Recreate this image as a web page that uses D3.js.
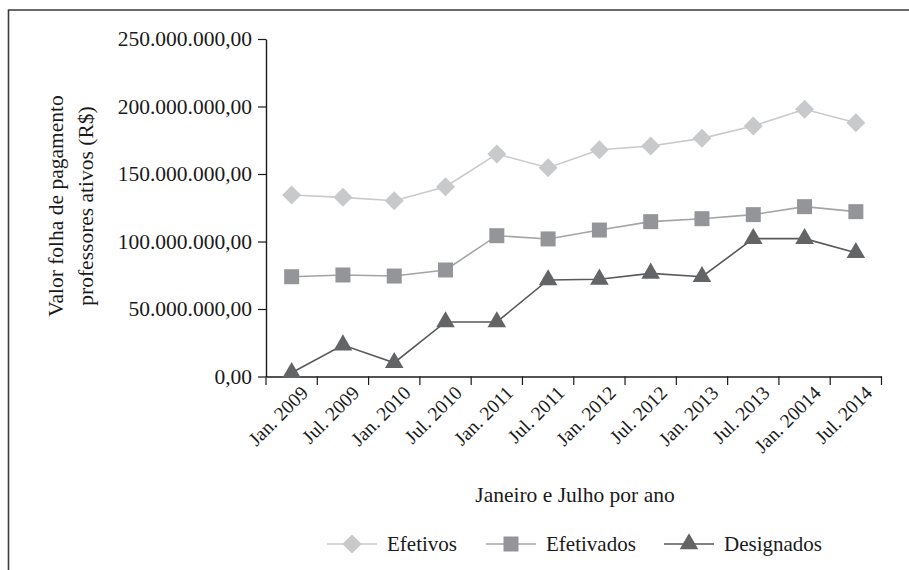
<!DOCTYPE html>
<html><head><meta charset="utf-8">
<script src="https://cdn.jsdelivr.net/npm/d3@7"></script>
<style>body{margin:0;background:#fff}svg{display:block}text{font-family:"Liberation Serif","DejaVu Serif",serif;fill:#1a1a1a}</style>
</head><body>
<svg id="c" width="909" height="570"></svg>
<script>
const categories = ["Jan. 2009","Jul. 2009","Jan. 2010","Jul. 2010","Jan. 2011","Jul. 2011","Jan. 2012","Jul. 2012","Jan. 2013","Jul. 2013","Jan. 20014","Jul. 2014"];
const efetivos   = [134.4,132.7,130.2,140.6,164.8,154.7,168.0,170.7,176.4,185.6,197.9,188.0].map(v=>v*1e6);
const efetivados = [73.9,75.2,74.4,78.9,104.3,101.9,108.5,114.7,116.9,119.9,125.8,122.1].map(v=>v*1e6);
const designados = [2.8,23.3,10.2,40.4,40.4,71.5,72.0,76.4,73.9,102.1,102.1,91.7].map(v=>v*1e6);
const yTicks = [0,50e6,100e6,150e6,200e6,250e6];
const seriesNames = ["Efetivos","Efetivados","Designados"];

const svg = d3.select("#c");
// frame
svg.append("path").attr("d","M8.5,570 V10 H909").attr("fill","none").attr("stroke","#3a3a3a").attr("stroke-width",1.6);

const x = d3.scaleBand().domain(categories).range([266,881.5]);
const y = d3.scaleLinear().domain([0,250e6]).range([376.5,39]);
const fmt = v => d3.format(",.2f")(v).replace(/,/g,"#").replace(/\./g,",").replace(/#/g,".");

const yAx = svg.append("g").attr("transform","translate(266,0)")
  .call(d3.axisLeft(y).tickValues(yTicks).tickFormat(fmt).tickSize(8).tickSizeOuter(0));
yAx.select(".domain").attr("stroke","#1a1a1a").attr("stroke-width",1.4);
yAx.selectAll(".tick line").attr("stroke","#1a1a1a").attr("stroke-width",1.2);
yAx.selectAll(".tick text").attr("font-size",21.5).attr("font-family","Liberation Serif").attr("fill","#1a1a1a").attr("x",-14);

const xAx = svg.append("g").attr("transform","translate(0,376.5)")
  .call(d3.axisBottom(x).tickSize(0).tickSizeOuter(0));
xAx.select(".domain").attr("stroke","#1a1a1a").attr("stroke-width",1.4);
xAx.selectAll(".tick text").attr("font-size",19.5).attr("font-family","Liberation Serif").attr("fill","#1a1a1a")
  .attr("text-anchor","end").attr("transform","translate(8,8) rotate(-45)").attr("dy","0.7em").attr("y",0);
// boundary ticks
const bounds = d3.range(categories.length+1).map(i=> i<categories.length ? x(categories[i]) : x.range()[1]);
svg.append("g").selectAll("line").data(bounds).join("line")
  .attr("x1",d=>d).attr("x2",d=>d).attr("y1",376.5).attr("y2",385)
  .attr("stroke","#1a1a1a").attr("stroke-width",1.2);

// axis titles
svg.append("text").attr("transform","translate(63,206) rotate(-90)").attr("text-anchor","middle")
  .attr("font-size",21.5).text("Valor folha de pagamento");
svg.append("text").attr("transform","translate(93,206) rotate(-90)").attr("text-anchor","middle")
  .attr("font-size",21.5).text("professores ativos (R$)");
svg.append("text").attr("x",575).attr("y",502).attr("text-anchor","middle").attr("font-size",21.5).text("Janeiro e Julho por ano");

const styles = [
  {data:efetivos, line:"#c9cacc", fill:"#c8c9cb", sym:d3.symbolSquare, size:180, rot:45},
  {data:efetivados, line:"#a3a4a6", fill:"#939598", sym:d3.symbolSquare, size:225, rot:0},
  {data:designados, line:"#58595b", fill:"#636466", sym:d3.symbolTriangle, size:150, rot:0}
];
const cx = c => x(c) + x.bandwidth()/2;
const line = d3.line().x((d,i)=>cx(categories[i])).y(d=>y(d));

styles.forEach(s=>{
  svg.append("path").datum(s.data).attr("d",line).attr("fill","none").attr("stroke",s.line).attr("stroke-width",1.6);
});
styles.forEach(s=>{
  svg.append("g").selectAll("path").data(s.data).join("path")
    .attr("d", d3.symbol().type(s.sym).size(s.size))
    .attr("transform",(d,i)=>`translate(${cx(categories[i])},${y(d)}) rotate(${s.rot})`)
    .attr("fill",s.fill);
});

// legend
const legX = [327,486,664];
const lg = svg.append("g");
styles.forEach((s,i)=>{
  const g = lg.append("g").attr("transform",`translate(${legX[i]},544)`);
  g.append("line").attr("x1",0).attr("x2",50).attr("stroke",s.line).attr("stroke-width",1.6);
  g.append("path").attr("d",d3.symbol().type(s.sym).size(s.size)).attr("transform",`translate(25,0) rotate(${s.rot})`).attr("fill",s.fill);
  g.append("text").attr("x",60).attr("y",7).attr("font-size",21).text(seriesNames[i]);
});
</script>
</body></html>
